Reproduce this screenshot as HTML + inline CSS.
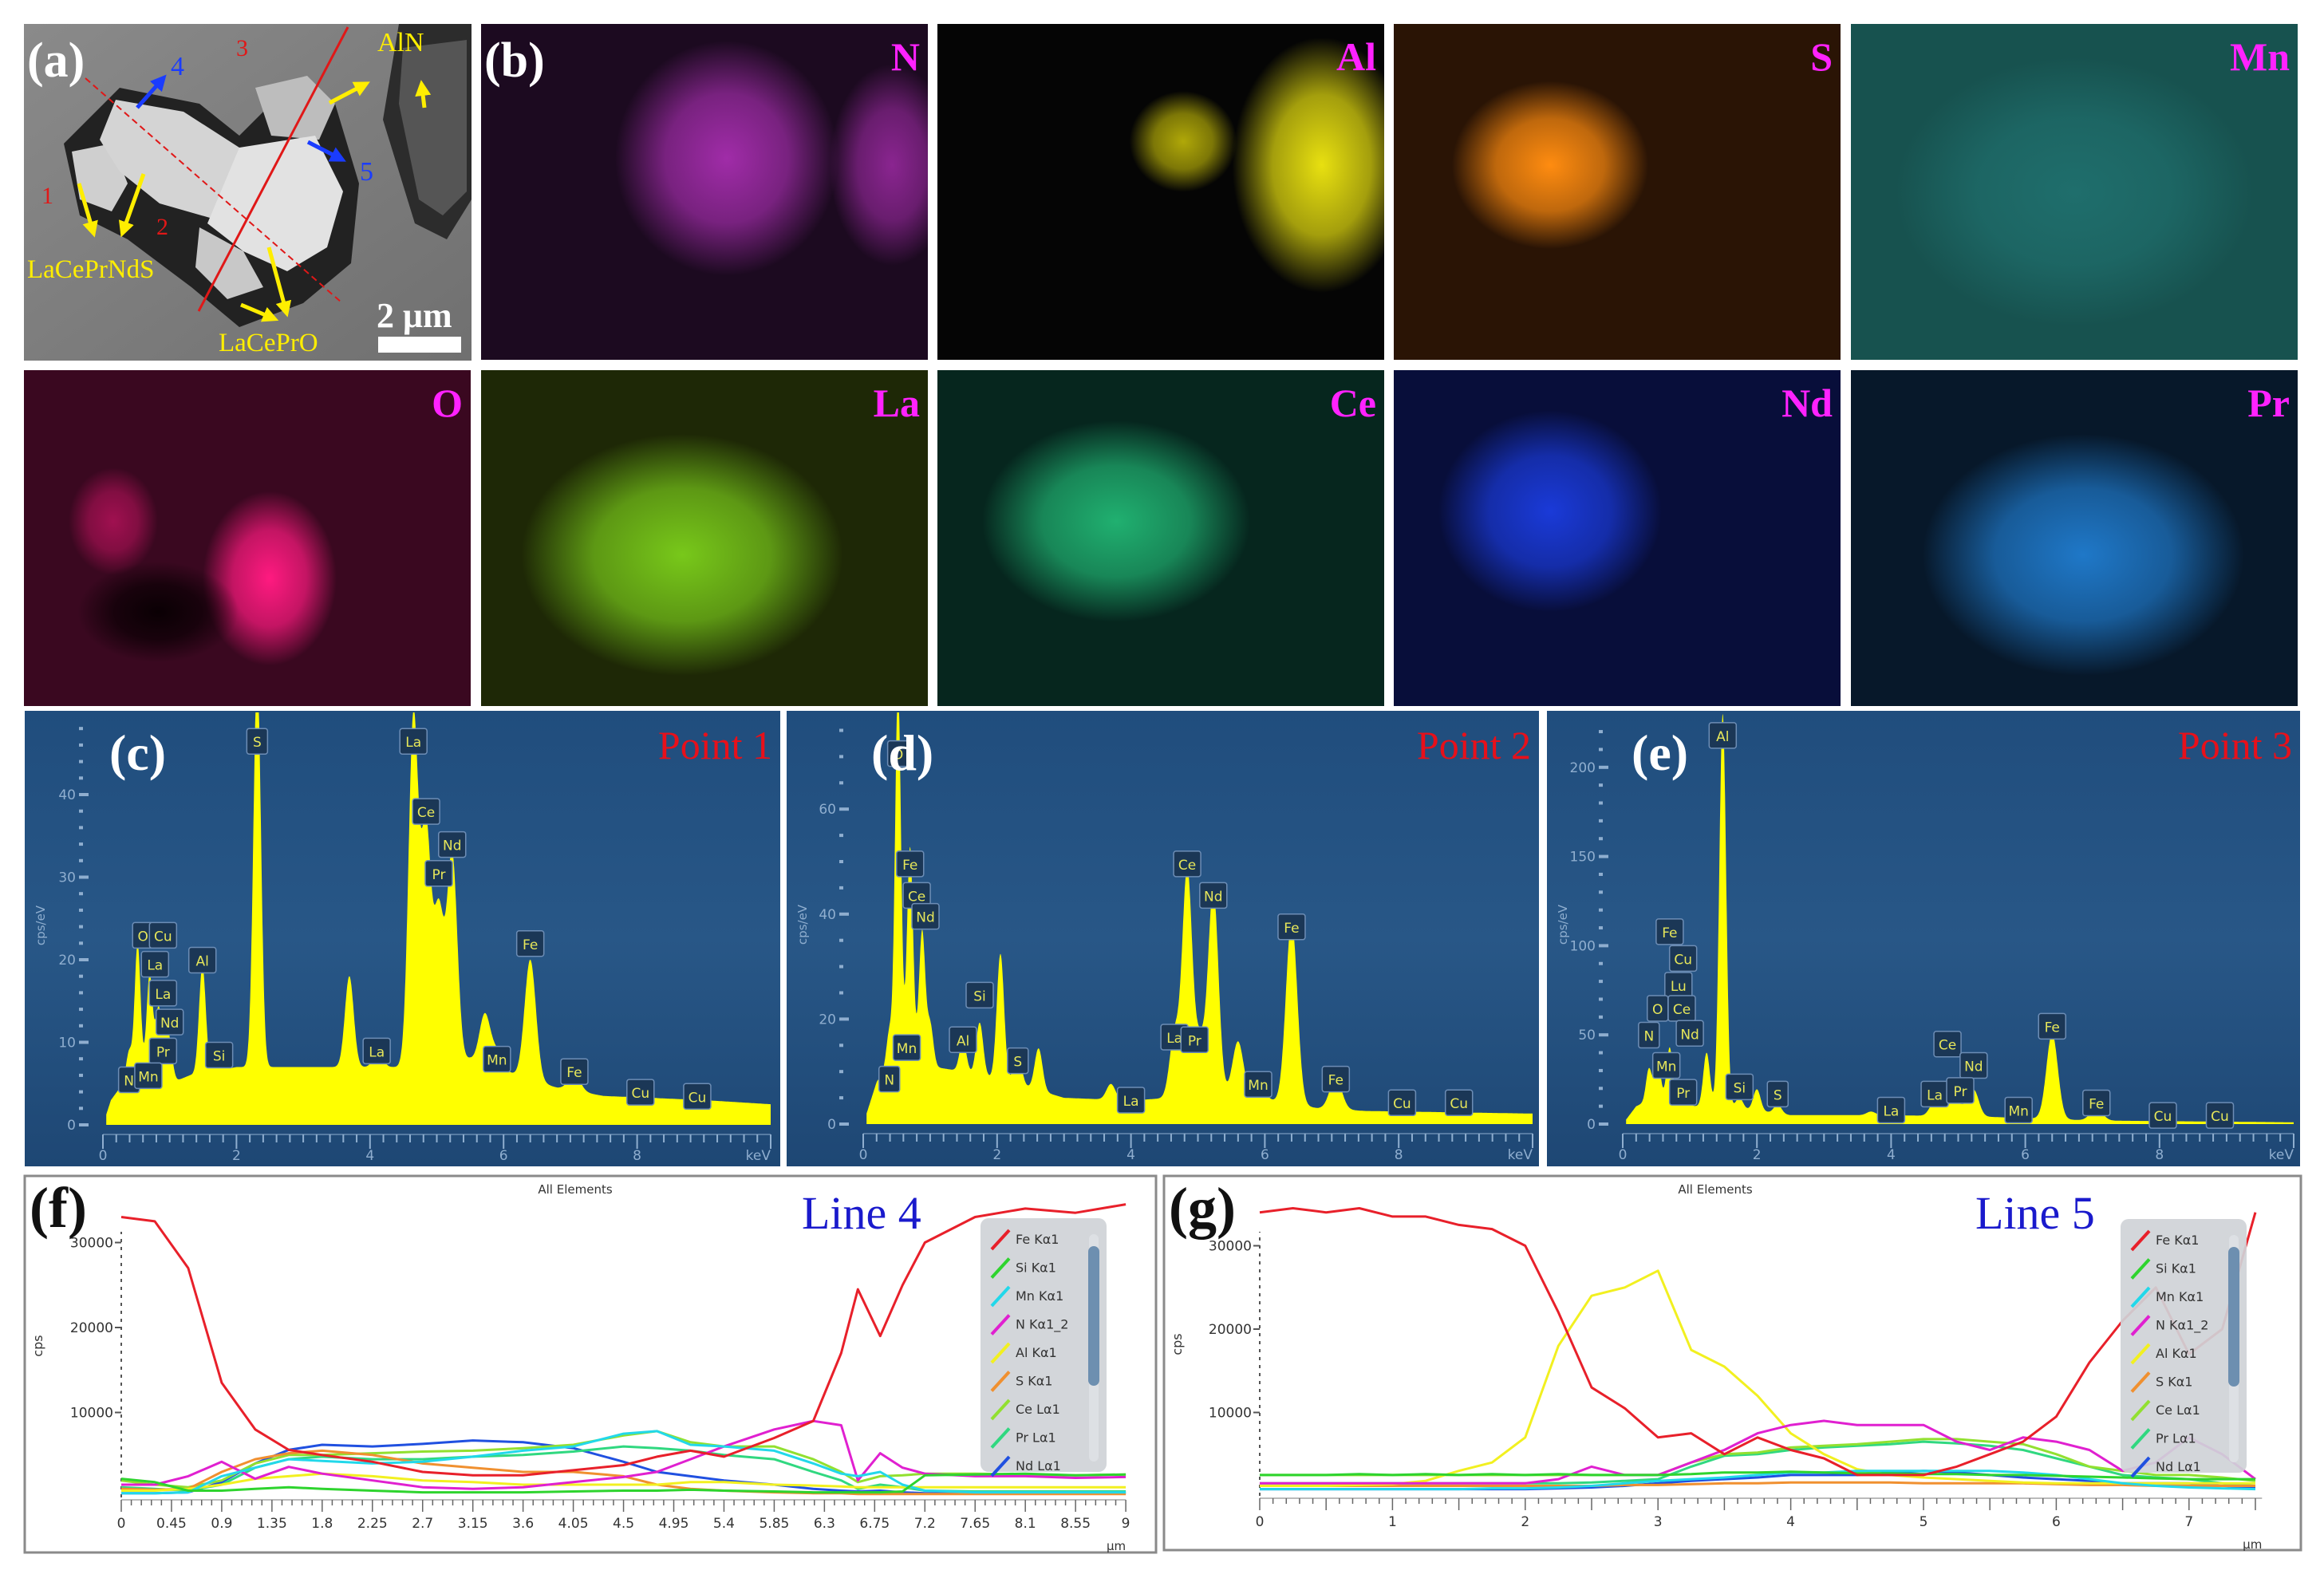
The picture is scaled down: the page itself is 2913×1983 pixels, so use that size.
<!DOCTYPE html>
<html><head><meta charset="utf-8"><title>EDS figure</title>
<style>html,body{margin:0;padding:0;background:#fff}svg{display:block}</style></head>
<body>
<svg id="fig" xmlns="http://www.w3.org/2000/svg" width="2913" height="1983" viewBox="0 0 2913 1983">
<defs>
<linearGradient id="specbg" x1="0" y1="0" x2="0" y2="1"><stop offset="0" stop-color="#204d7d"/><stop offset="0.5" stop-color="#285787"/><stop offset="1" stop-color="#1e4774"/></linearGradient>
<linearGradient id="sembg" x1="0" y1="0" x2="1" y2="1"><stop offset="0" stop-color="#8a8a8a"/><stop offset="1" stop-color="#707070"/></linearGradient>
<marker id="ahy" markerWidth="4" markerHeight="4" refX="2" refY="2" orient="auto" markerUnits="strokeWidth"><path d="M0,0 L4,2 L0,4 Z" fill="#ffee00"/></marker>
<marker id="ahb" markerWidth="4" markerHeight="4" refX="2" refY="2" orient="auto" markerUnits="strokeWidth"><path d="M0,0 L4,2 L0,4 Z" fill="#1a3cff"/></marker>
</defs>
<g id="maps"></g>
<g id="sem">
<rect x="30" y="30" width="561" height="422" fill="url(#sembg)"/>
<polygon points="500,30 591,30 591,250 560,300 520,280 480,150" fill="#2c2c2c"/>
<polygon points="505,60 585,50 585,240 555,270 525,250 500,130" fill="#555"/>
<polygon points="80,180 150,110 250,130 300,170 330,140 420,130 450,230 440,330 380,380 300,410 240,360 160,300 100,270" fill="#222"/>
<polygon points="90,190 140,180 160,230 140,265 100,250" fill="#cfcfcf"/>
<polygon points="145,125 230,140 300,185 310,230 270,275 200,255 150,215 125,175" fill="#d4d4d4"/>
<polygon points="320,110 385,95 420,130 400,175 340,170" fill="#bdbdbd"/>
<polygon points="300,185 395,170 430,240 410,310 360,340 305,315 260,280" fill="#e2e2e2"/>
<polygon points="250,285 305,315 330,360 285,375 245,335" fill="#c8c8c8"/>
<line x1="249" y1="390" x2="436" y2="34" stroke="#e01818" stroke-width="3"/>
<line x1="107" y1="98" x2="428" y2="379" stroke="#e01818" stroke-width="2" stroke-dasharray="8,5"/>
<g stroke="#ffee00" stroke-width="5" marker-end="url(#ahy)">
<line x1="99" y1="230" x2="116" y2="288"/><line x1="180" y1="218" x2="155" y2="288"/>
<line x1="413" y1="129" x2="455" y2="107"/><line x1="532" y1="135" x2="529" y2="110"/>
<line x1="337" y1="310" x2="358" y2="388"/><line x1="302" y1="382" x2="340" y2="398"/></g>
<g stroke="#1a3cff" stroke-width="5" marker-end="url(#ahb)"><line x1="172" y1="135" x2="202" y2="101"/><line x1="386" y1="178" x2="425" y2="198"/></g>
<g font-family="Liberation Serif, serif">
<text x="34" y="96" font-size="62" font-weight="bold" fill="#fff">(a)</text>
<text x="473" y="64" font-size="34" fill="#ffee00">AlN</text>
<text x="214" y="94" font-size="34" fill="#1a3cff">4</text>
<text x="451" y="226" font-size="34" fill="#1a3cff">5</text>
<text x="296" y="70" font-size="30" fill="#e01818">3</text>
<text x="52" y="255" font-size="30" fill="#e01818">1</text>
<text x="196" y="294" font-size="30" fill="#e01818">2</text>
<text x="34" y="348" font-size="33" fill="#ffee00">LaCePrNdS</text>
<text x="274" y="440" font-size="33" fill="#ffee00">LaCePrO</text>
<text x="472" y="410" font-size="44" font-weight="bold" fill="#fff">2 μm</text></g>
<rect x="474" y="422" width="104" height="20" fill="#fff"/>
</g>
<g id="spectra"></g>
<g id="lines"></g>
</svg>
<script>
const NS='http://www.w3.org/2000/svg';
function mk(parent,tag,attrs,txt){const e=document.createElementNS(NS,tag);for(const k in attrs)e.setAttribute(k,attrs[k]);if(txt!==undefined)e.textContent=txt;parent.appendChild(e);return e;}

// ---------- maps ----------
const mapNames=['N','Al','S','Mn','O','La','Ce','Nd','Pr'];
const mapBg=['#1c0a20','#050505','#2a1405','#17524f','#3a0820','#1e2806','#06261e','#080e3a','#07182a'];
const mapBlobs=[
 [[0.55,0.4,0.25,0.35,'#a02ca8'],[0.92,0.42,0.14,0.3,'#8a2590']],
 [[0.86,0.42,0.2,0.38,'#e8e010'],[0.55,0.35,0.12,0.15,'#b0a808']],
 [[0.35,0.42,0.22,0.25,'#ff8c10']],
 [[0.5,0.5,0.4,0.4,'#1f6e6c']],
 [[0.55,0.62,0.15,0.26,'#ff1a80'],[0.2,0.45,0.1,0.16,'#a01050'],[0.3,0.72,0.18,0.15,'#0a0004']],
 [[0.45,0.55,0.36,0.36,'#78c81a']],
 [[0.4,0.45,0.3,0.3,'#20b070']],
 [[0.35,0.42,0.25,0.3,'#1a3ad8']],
 [[0.52,0.55,0.36,0.36,'#1f78c8']]];
const mapLeft=[603,1175,1747,2320,30,603,1175,1747,2320];
const mapTop=[30,30,30,30,464,464,464,464,464];
const mg=document.getElementById('maps'), defs=document.querySelector('defs');
mapNames.forEach((n,i)=>{
  const L=mapLeft[i],T=mapTop[i],W=560,H=421;
  const cp=mk(defs,'clipPath',{id:'clip'+i});
  mk(cp,'rect',{x:L,y:T,width:W,height:H});
  const g=mk(mg,'g',{'clip-path':'url(#clip'+i+')'});
  
  
  mk(g,'rect',{x:L,y:T,width:W,height:H,fill:mapBg[i]});
  mapBlobs[i].forEach((b,j)=>{
    const id='rg'+i+'_'+j;
    const rg=mk(defs,'radialGradient',{id:id});
    mk(rg,'stop',{offset:'0','stop-color':b[4],'stop-opacity':'1'});
    mk(rg,'stop',{offset:'0.55','stop-color':b[4],'stop-opacity':'0.7'});
    mk(rg,'stop',{offset:'1','stop-color':b[4],'stop-opacity':'0'});
    mk(g,'ellipse',{cx:L+b[0]*W,cy:T+b[1]*H,rx:b[2]*W,ry:b[3]*H,fill:'url(#'+id+')'});
  });
  const t=mk(g,'text',{x:L+W-10,y:T+58,'text-anchor':'end','font-family':'Liberation Serif, serif','font-size':50,'font-weight':'bold',fill:'#ff22ff'},n);
  
  
});
const bl=mk(mg,'text',{x:607,y:96,'font-family':'Liberation Serif, serif','font-size':62,'font-weight':'bold',fill:'#fff'},'(b)');



// ---------- spectra data ----------
const cBgE=[0,0.12,0.3,0.5,1.0,1.3,2.0,2.6,3.5,4.4,5.5,6.2,6.8,7.5,9,10];
const cBgV=[0,3,5,7,5,6,7,7,7,7,8,6,4.5,3.5,3,2.5];
const cPkE=[0.39,0.52,0.7,0.83,0.93,1.0,1.49,1.74,2.31,3.69,4.12,4.65,4.84,5.03,5.23,5.72,5.9,6.4,7.06,8.05];
const cPkH=[3,15,12,8,5,4,13,2,48,11,2,42,28,18,25,6,2,14.5,2,0.3];
const cLabT=['S','La','Ce','Nd','Pr','Fe','O','Cu','Al','La','La','Nd','Pr','N','Mn','Si','La','Mn','Fe','Cu','Cu'];
const cLabE=[2.31,4.65,4.84,5.23,5.03,6.4,0.6,0.9,1.49,0.78,0.9,1.0,0.9,0.39,0.68,1.74,4.1,5.9,7.06,8.05,8.9];
const cLabV=[48,48,39.5,35.5,32,23.5,24.5,24.5,21.5,21,17.5,14,10.5,7,7.5,10,10.5,9.5,8,5.5,5];

const dBgE=[0,0.2,0.5,1.0,1.5,2.2,3.0,4.0,4.6,5.5,6.3,6.8,7.5,10];
const dBgV=[0,8,14,11,10,8,5,4.5,5,6,4,3,2.5,2];
const dPkE=[0.39,0.52,0.7,0.88,1.0,1.49,1.74,2.05,2.31,2.62,3.7,4.65,4.84,5.03,5.23,5.6,5.9,6.4,7.06];
const dPkH=[6,70,40,25,8,6,10,24,6,8,3,12,43,10,39,10,4,35,6];
const dLabT=['O','Fe','Ce','Nd','Al','Si','S','La','La','Pr','Ce','Nd','Fe','Mn','Fe','Cu','Cu','N','Mn'];
const dLabE=[0.52,0.7,0.8,0.93,1.49,1.74,2.31,4.0,4.65,4.95,4.84,5.23,6.4,5.9,7.06,8.05,8.9,0.39,0.65];
const dLabV=[73,52,46,42,18.5,27,14.5,7,19,18.5,52,46,40,10,11,6.5,6.5,11,17];

const eBgE=[0,0.2,0.5,1.0,1.5,2.5,4,5.5,7,10];
const eBgV=[0,10,15,10,10,5,5,4,2,1];
const ePkE=[0.39,0.52,0.7,0.93,1.25,1.49,1.74,2.0,2.31,3.7,4.65,4.84,5.03,5.23,6.4,7.06];
const ePkH=[18,22,30,10,30,220,6,12,5,2,8,16,6,15,48,7];
const eLabT=['Al','Fe','Cu','Lu','O','Ce','Nd','N','Mn','Pr','Si','S','La','La','Ce','Nd','Pr','Mn','Fe','Fe','Cu','Cu'];
const eLabE=[1.49,0.7,0.9,0.83,0.52,0.88,1.0,0.39,0.65,0.9,1.74,2.31,4.0,4.65,4.84,5.23,5.03,5.9,6.4,7.06,8.05,8.9];
const eLabV=[225,115,100,85,72,72,58,57,40,25,28,24,15,24,52,40,26,15,62,19,12,12];

const xTickLabs=['0','2','4','6','8'];

const specDefs=[
 {id:'c',L:31,T:891,R:978,B:1462,x0:129,xp:83.7,y0:1410,yp:10.35,yTicks:[0,10,20,30,40],minor:2,bgE:cBgE,bgV:cBgV,pE:cPkE,pH:cPkH,lT:cLabT,lE:cLabE,lV:cLabV,title:'Point 1'},
 {id:'d',L:986,T:891,R:1929,B:1462,x0:1082,xp:83.9,y0:1409,yp:6.58,yTicks:[0,20,40,60],minor:5,bgE:dBgE,bgV:dBgV,pE:dPkE,pH:dPkH,lT:dLabT,lE:dLabE,lV:dLabV,title:'Point 2'},
 {id:'e',L:1939,T:891,R:2883,B:1462,x0:2034,xp:84.1,y0:1409,yp:2.236,yTicks:[0,50,100,150,200],minor:10,bgE:eBgE,bgV:eBgV,pE:ePkE,pH:ePkH,lT:eLabT,lE:eLabE,lV:eLabV,title:'Point 3'}];

function interp(xs,ys,x){if(x<=xs[0])return ys[0];for(let i=1;i<xs.length;i++){if(x<=xs[i]){const t=(x-xs[i-1])/(xs[i]-xs[i-1]);return ys[i-1]+t*(ys[i]-ys[i-1]);}}return ys[ys.length-1];}
const sg=document.getElementById('spectra');
specDefs.forEach(s=>{
  const g=mk(sg,'g',{});
  
  
  mk(g,'rect',{x:s.L,y:s.T,width:s.R-s.L,height:s.B-s.T,fill:'url(#specbg)'});
  const X=e=>s.x0+e*s.xp, Y=v=>s.y0-v*s.yp;
  let d='M'+X(0.05)+','+s.y0;
  for(let e=0.05;e<=10.001;e+=0.005){
    let v=interp(s.bgE,s.bgV,e);
    s.pE.forEach((pe,k)=>{const sd=0.04+0.007*pe;v+=s.pH[k]*Math.exp(-0.5*((e-pe)/sd)**2);});
    let y=Math.max(Y(v),s.T+2);
    d+=' L'+X(e).toFixed(1)+','+y.toFixed(1);
  }
  d+=' L'+X(10)+','+s.y0+' Z';
  const p=mk(g,'path',{d:d,fill:'#ffff00'});
  
  
  const ax=mk(g,'g',{fill:'#8faecf','font-family':'DejaVu Sans, sans-serif','font-size':17});
  
  
  mk(ax,'line',{x1:X(0),y1:s.y0+12,x2:X(10),y2:s.y0+12,stroke:'#8faecf','stroke-width':1});
  for(let k=0;k<=50;k++){const x=X(k*0.2);mk(ax,'line',{x1:x,y1:s.y0+12,x2:x,y2:s.y0+(k%10==0?30:22),stroke:'#8faecf','stroke-width':2});}
  xTickLabs.forEach(t=>mk(ax,'text',{x:X(+t),y:s.y0+44,'text-anchor':'middle'},t));
  mk(ax,'text',{x:X(10),y:s.y0+44,'text-anchor':'end'},'keV');
  const top=(s.y0-s.T-20)/s.yp;
  for(let v=0;v<=top;v+=s.minor){mk(ax,'rect',{x:X(0)-30,y:Y(v)-2,width:s.yTicks.includes(v)?12:5,height:4,fill:'#8faecf'});}
  s.yTicks.forEach(v=>mk(ax,'text',{x:X(0)-34,y:Y(v)+6,'text-anchor':'end'},String(v)));
  mk(ax,'text',{x:0,y:0,transform:'translate('+(s.L+25)+','+(s.y0-250)+') rotate(-90)','text-anchor':'middle','font-size':15},'cps/eV');
  s.lT.forEach((t,k)=>{
    const lg=mk(g,'g',{});
    
    
    const x=X(s.lE[k]),y=Math.max(Y(s.lV[k]),s.T+4);
    const w=t.length>1?34:26;
    mk(lg,'rect',{x:x-w/2,y:y,width:w,height:32,fill:'#1b3756',stroke:'#6d8db5','stroke-width':1.5,rx:3});
    mk(lg,'text',{x:x,y:y+23,'text-anchor':'middle','font-family':'DejaVu Sans, sans-serif','font-size':17,fill:'#e6e65a'},t);
  });
  const pl=mk(g,'text',{x:s.L+106,y:s.T+74,'font-family':'Liberation Serif, serif','font-size':64,'font-weight':'bold',fill:'#fff'},'('+s.id+')');
  
  
  const tt=mk(g,'text',{x:s.R-10,y:s.T+60,'text-anchor':'end','font-family':'Liberation Serif, serif','font-size':50,fill:'#e8101a'},s.title);
  
  
});

// ---------- line scan data ----------
const elems=['Fe Kα1','Si Kα1','Mn Kα1','N Kα1_2','Al Kα1','S Kα1','Ce Lα1','Pr Lα1','Nd Lα1'];
const elemColors=['#e8202a','#2ed42e','#22d8ea','#e020d0','#f2f020','#f09030','#92e030','#30d880','#2050e0'];
const fX=[0,0.3,0.6,0.9,1.2,1.5,1.8,2.25,2.7,3.15,3.6,4.05,4.5,4.8,5.1,5.4,5.85,6.2,6.45,6.6,6.8,7.0,7.2,7.65,8.1,8.55,9];
const fFe=[33000,32500,27000,13500,8000,5600,5000,4200,3000,2600,2600,3200,3800,4800,5500,4800,7000,9000,17000,24500,19000,25000,30000,33000,34000,33500,34500];
const fSi=[2200,1800,800,800,1000,1200,1000,800,600,600,600,700,800,800,900,800,700,600,600,600,600,700,2600,2700,2800,2600,2700];
const fMn=[500,500,600,2500,3500,4500,4300,4000,4200,4800,5500,6000,7500,7800,6200,6000,5500,4000,2800,2500,3000,1500,800,600,600,600,600];
const fN=[1500,1500,2500,4200,2200,3600,2800,2000,1200,1000,1200,1800,2400,3000,4500,6000,8000,9000,8500,2000,5200,3500,2800,2500,2500,2300,2400];
const fAl=[800,800,1000,1500,2200,2500,2800,2500,2000,1800,1500,1500,1500,1500,1800,1800,1500,1400,1300,1200,1200,1200,1200,1200,1200,1200,1200];
const fS=[1000,900,1000,3000,4500,5200,5500,5000,4000,3500,3000,3000,2500,1500,1000,800,600,500,500,400,400,400,400,400,400,400,400];
const fCe=[2000,1500,1200,2000,4000,5000,5000,5200,5400,5500,5800,6200,7300,7800,6500,6000,6000,4500,3000,1800,2500,2600,2800,2800,2700,2600,2700];
const fPr=[1200,1000,800,1500,3500,4500,4800,4500,4500,4800,5000,5400,6000,5800,5500,5000,4500,3000,2000,1000,1500,1200,800,700,700,700,700];
const fNd=[500,500,600,1800,4000,5600,6200,6000,6300,6700,6500,5800,4200,3000,2500,2000,1500,1000,800,700,800,600,500,500,500,500,500];
const fTickLabs=['0','0.45','0.9','1.35','1.8','2.25','2.7','3.15','3.6','4.05','4.5','4.95','5.4','5.85','6.3','6.75','7.2','7.65','8.1','8.55','9'];

const gX=[0,0.25,0.5,0.75,1,1.25,1.5,1.75,2,2.25,2.5,2.75,3,3.25,3.5,3.75,4,4.25,4.5,4.75,5,5.25,5.5,5.75,6,6.25,6.5,6.75,7,7.25,7.5];
const gFe=[34000,34500,34000,34500,33500,33500,32500,32000,30000,22000,13000,10500,7000,7500,5000,7000,5500,4500,2500,2500,2500,3500,5000,6500,9500,16000,21000,25000,17000,20000,34000];
const gSi=[2500,2500,2500,2600,2500,2600,2500,2600,2500,2600,2500,2500,2500,2600,2800,2800,2900,2800,2700,2700,2600,2600,2500,2500,2400,2300,2200,2100,2000,2000,2000];
const gMn=[800,800,800,800,800,800,800,900,900,1000,1200,1500,1800,2000,2200,2500,2800,2800,3000,3000,3000,3000,3000,2800,2500,2000,1500,1200,1000,900,800];
const gN=[1500,1500,1500,1500,1500,1500,1500,1500,1500,2000,3500,2500,2500,4000,5500,7500,8500,9000,8500,8500,8500,6500,5500,7000,6500,5500,3000,4000,7000,5000,2000];
const gAl=[1200,1200,1200,1300,1400,1800,3000,4000,7000,18000,24000,25000,27000,17500,15500,12000,7500,5000,3200,2500,2200,2000,1800,1600,1500,1500,1500,1500,1500,1500,1500];
const gS=[1200,1200,1200,1200,1200,1200,1200,1200,1200,1200,1200,1300,1300,1400,1500,1500,1600,1600,1600,1600,1500,1500,1500,1500,1400,1300,1300,1200,1200,1200,1200];
const gCe=[2500,2500,2500,2500,2500,2500,2500,2500,2500,2500,2500,2500,2500,4000,5000,5200,5800,6000,6200,6500,6800,6800,6500,6200,5000,3500,3000,2500,2500,2200,1800];
const gPr=[1500,1500,1500,1500,1500,1500,1500,1500,1500,1500,1600,1800,2000,3500,4800,5000,5500,5800,6000,6200,6500,6300,6000,5500,4500,3500,2500,2200,2000,1500,1200];
const gNd=[800,800,800,800,800,800,800,800,800,900,1000,1200,1500,1800,2000,2200,2500,2500,2500,2800,3000,2800,2500,2200,2000,1800,1500,1500,1500,1200,1000];
const gTickLabs=['0','1','2','3','4','5','6','7'];
const yTickLabs=['10000','20000','30000'];

const lineDefs=[
 {id:'f',L:31,T:1474,R:1449,B:1946,x0:152,xp:139.9,xmax:9,y0:1877,yp:0.01065,xs:fX,ser:[fFe,fSi,fMn,fN,fAl,fS,fCe,fPr,fNd],ticks:fTickLabs,minor:0.09,title:'Line 4',titleX:1005,allX:721,legL:1229,legT:1527},
 {id:'g',L:1459,T:1474,R:2884,B:1943,x0:1579,xp:166.4,xmax:7.55,y0:1875,yp:0.01045,xs:gX,ser:[gFe,gSi,gMn,gN,gAl,gS,gCe,gPr,gNd],ticks:gTickLabs,minor:0.1,title:'Line 5',titleX:2476,allX:2150,legL:2658,legT:1528}];
const lg=document.getElementById('lines');
lineDefs.forEach(s=>{
  const g=mk(lg,'g',{});
  
  
  mk(g,'rect',{x:s.L,y:s.T,width:s.R-s.L,height:s.B-s.T,fill:'#fff',stroke:'#8a8a8a','stroke-width':3});
  const X=v=>s.x0+v*s.xp, Y=v=>s.y0-v*s.yp;
  const ax=mk(g,'g',{fill:'#333','font-family':'DejaVu Sans, sans-serif','font-size':17});
  
  
  mk(ax,'line',{x1:s.x0,y1:s.y0,x2:s.x0,y2:s.T+70,stroke:'#555','stroke-width':2,'stroke-dasharray':'4,6'});
  mk(ax,'line',{x1:s.x0,y1:s.y0+3,x2:X(s.xmax),y2:s.y0+3,stroke:'#777','stroke-width':1});
  for(let k=0;k*s.minor<=s.xmax+1e-6;k++){const x=X(k*s.minor);mk(ax,'line',{x1:x,y1:s.y0+3,x2:x,y2:s.y0+(k%5==0?18:10),stroke:'#666','stroke-width':1.5});}
  s.ticks.forEach(t=>mk(ax,'text',{x:X(+t),y:s.y0+38,'text-anchor':'middle'},t));
  mk(ax,'text',{x:X(s.xmax),y:s.y0+66,'text-anchor':'end','font-size':15},'μm');
  yTickLabs.forEach(t=>{mk(ax,'text',{x:s.x0-10,y:Y(+t)+6,'text-anchor':'end'},t);mk(ax,'line',{x1:s.x0-8,y1:Y(+t),x2:s.x0,y2:Y(+t),stroke:'#555','stroke-width':2});});
  mk(ax,'text',{x:0,y:0,transform:'translate('+(s.L+22)+','+(s.y0-190)+') rotate(-90)','text-anchor':'middle','font-size':16},'cps');
  mk(ax,'text',{x:s.allX,y:s.T+22,'text-anchor':'middle','font-size':15},'All Elements');
  for(let i=s.ser.length-1;i>=0;i--){
    const vals=s.ser[i];
    const pts=s.xs.map((x,k)=>X(x).toFixed(1)+','+Y(vals[k]).toFixed(1)).join(' ');
    const pl=mk(g,'polyline',{points:pts,fill:'none',stroke:elemColors[i],'stroke-width':3,'stroke-linejoin':'round'});
    
    
  }
  const leg=mk(g,'g',{});
  
  
  mk(leg,'rect',{x:s.legL,y:s.legT,width:158,height:318,rx:10,fill:'#cfd2d7','fill-opacity':0.92});
  mk(leg,'rect',{x:s.legL+136,y:s.legT+20,width:12,height:285,rx:6,fill:'#dde0e4'});
  const thumb=mk(leg,'rect',{x:s.legL+135,y:s.legT+35,width:14,height:175,rx:7,fill:'#6d8fb0'});
  
  
  elems.forEach((el,i)=>{
    const y=s.legT+25+i*35.5;
    const e=mk(leg,'g',{});
    
    
    mk(e,'line',{x1:s.legL+14,y1:y+14,x2:s.legL+36,y2:y-10,stroke:elemColors[i],'stroke-width':4});
    mk(e,'text',{x:s.legL+44,y:y+7,'font-family':'DejaVu Sans, sans-serif','font-size':16,fill:'#333'},el);
  });
  const pl=mk(g,'text',{x:s.L+6,y:s.T+64,'font-family':'Liberation Serif, serif','font-size':72,'font-weight':'bold',fill:'#111'},'('+s.id+')');
  
  
  const tt=mk(g,'text',{x:s.titleX,y:s.T+66,'font-family':'Liberation Serif, serif','font-size':58,fill:'#1a1acc'},s.title);
  
  
});
</script>
</body></html>
